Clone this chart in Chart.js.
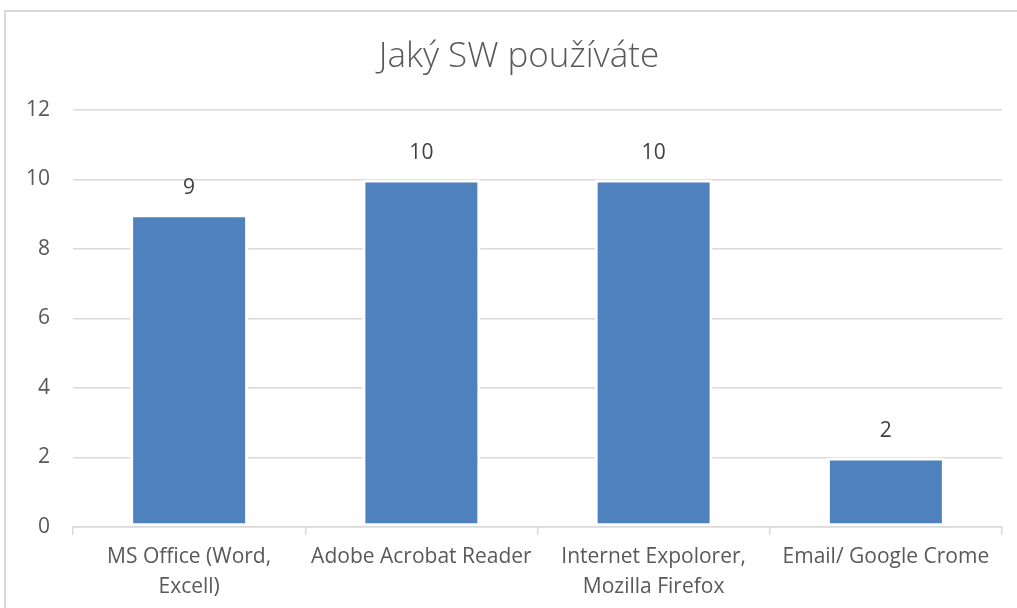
<!DOCTYPE html>
<html>
<head>
<meta charset="utf-8">
<script src="https://cdn.jsdelivr.net/npm/chart.js@4"></script>
<style>
  html, body { margin: 0; padding: 0; background: #fff; overflow: hidden; }
  #wrap { position: relative; width: 1017px; height: 608px; }
  #frame { position: absolute; left: 4px; top: 10px; width: 1030px; height: 620px;
           border-top: 2px solid #d9d9d9; border-left: 2px solid #d9d9d9; pointer-events: none; }
  canvas { position: absolute; left: 0; top: 0; }
</style>
</head>
<body>
<div id="wrap">
  <canvas id="c" width="1017" height="608"></canvas>
  <div id="frame"></div>
</div>
<script>
const title = "Jaký SW používáte";
const categories = [
  ["MS Office (Word,", "Excell)"],
  ["Adobe Acrobat Reader"],
  ["Internet Expolorer,", "Mozilla Firefox"],
  ["Email/ Google Crome"]
];
const values = [9, 10, 10, 2];
const yMin = 0, yMax = 12, yStep = 2;

const FONT = "'Open Sans', 'DejaVu Sans', sans-serif";

const dataLabels = {
  id: 'dataLabels',
  afterDatasetsDraw(chart) {
    const ctx = chart.ctx;
    ctx.save();
    ctx.font = "21px " + FONT;
    ctx.fillStyle = "#404040";
    ctx.textAlign = "center";
    ctx.textBaseline = "middle";
    chart.getDatasetMeta(0).data.forEach((bar, i) => {
      ctx.fillText(String(values[i]), bar.x, bar.y - 26);
    });
    ctx.restore();
  }
};

const chartTitle = {
  id: 'chartTitle',
  afterDraw(chart) {
    const ctx = chart.ctx;
    ctx.save();
    ctx.font = "300 35px " + FONT;
    ctx.fillStyle = "#595959";
    ctx.textAlign = "center";
    ctx.textBaseline = "middle";
    ctx.fillText(title, (4 + 1034) / 2, 57);
    ctx.restore();
  }
};

new Chart(document.getElementById('c'), {
  type: 'bar',
  data: {
    labels: categories,
    datasets: [{
      data: values,
      backgroundColor: '#4F81BD',
      borderColor: '#ffffff',
      borderWidth: 3,
      borderSkipped: false,
      categoryPercentage: 1,
      barPercentage: 0.508
    }]
  },
  options: {
    responsive: false,
    animation: false,
    devicePixelRatio: 1,
    layout: { padding: { left: 0, right: 15, top: 110, bottom: 0 } },
    plugins: {
      legend: { display: false },
      tooltip: { enabled: false },
      title: { display: false }
    },
    scales: {
      x: {
        grid: { offset: true, drawOnChartArea: false, drawTicks: true, tickLength: 8, color: '#d9d9d9', lineWidth: 1.5 },
        border: { display: true, color: '#d9d9d9', width: 1.5 },
        ticks: { color: '#595959', font: { family: FONT, size: 21, lineHeight: 1.43 }, padding: 7, maxRotation: 0, autoSkip: false },
        afterFit(scale) { scale.height = 81; }
      },
      y: {
        min: yMin, max: yMax,
        grid: { color: '#d9d9d9', lineWidth: 1.5, drawTicks: false },
        border: { display: false },
        ticks: { stepSize: yStep, color: '#595959', font: { family: FONT, size: 21 }, padding: 23 },
        afterFit(scale) { scale.width = 73; }
      }
    }
  },
  plugins: [dataLabels, chartTitle]
});
</script>
</body>
</html>
